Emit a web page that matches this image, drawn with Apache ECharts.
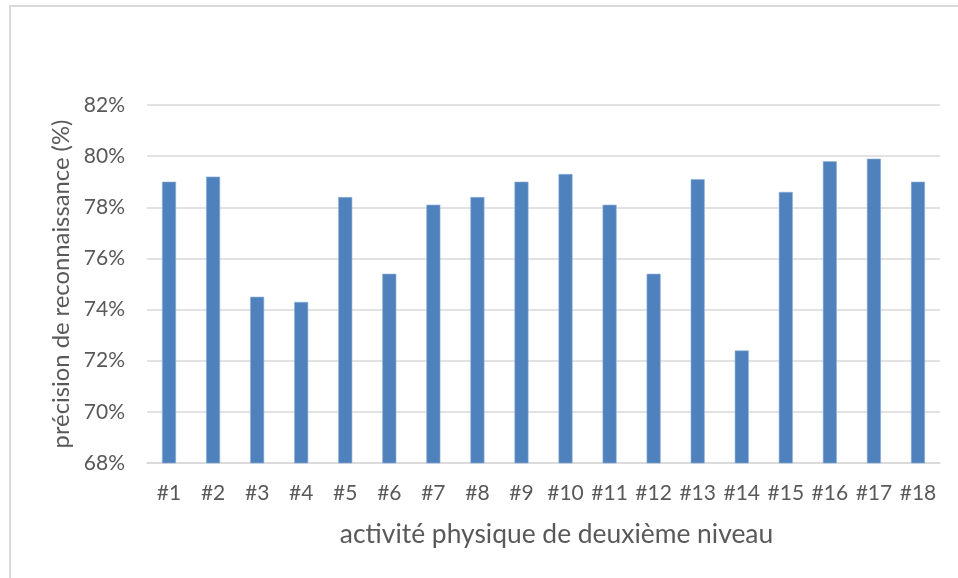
<!DOCTYPE html>
<html>
<head>
<meta charset="utf-8">
<script src="https://cdn.jsdelivr.net/npm/echarts@6/dist/echarts.min.js"></script>
<style>
  html, body { margin: 0; padding: 0; background: #ffffff; }
  #chart { width: 958px; height: 578px; }
</style>
</head>
<body>
<div id="chart"></div>
<script>
// Activity labels along the x axis
const activities = ['#1', '#2', '#3', '#4', '#5', '#6', '#7', '#8', '#9',
  '#10', '#11', '#12', '#13', '#14', '#15', '#16', '#17', '#18'];

// Recognition accuracy per activity (%)
const accuracy = [79.0, 79.2, 74.5, 74.3, 78.4, 75.4, 78.1, 78.4, 79.0,
  79.3, 78.1, 75.4, 79.1, 72.4, 78.6, 79.8, 79.9, 79.0];

// Value axis range and step (%)
const yMin = 68;
const yMax = 82;
const yStep = 2;

const xTitle = 'activité physique de deuxième niveau';
const yTitle = 'précision de reconnaissance (%)';

const FONT = 'Lato, "Open Sans", sans-serif';
const TEXT = '#595959';
const GRID = '#d9d9d9';

const chart = echarts.init(document.getElementById('chart'), null, { renderer: 'canvas' });

chart.setOption({
  animation: false,
  backgroundColor: '#ffffff',
  textStyle: { fontFamily: FONT },
  graphic: [
    {
      type: 'polyline',
      silent: true,
      shape: { points: [[10, 578], [10, 6], [958, 6]] },
      style: { stroke: GRID, lineWidth: 2, fill: null }
    }
  ],
  grid: { left: 147, right: 18, top: 105, bottom: 115, containLabel: false },
  xAxis: {
    type: 'category',
    data: activities,
    name: xTitle,
    nameLocation: 'middle',
    nameGap: 58,
    nameTextStyle: { color: TEXT, fontSize: 26.4, fontFamily: FONT, padding: [0, 0, 0, 26] },
    axisLine: { show: true, lineStyle: { color: GRID, width: 1.5 } },
    axisTick: { show: false },
    axisLabel: { color: TEXT, fontSize: 21, margin: 20, fontFamily: FONT, interval: 0 }
  },
  yAxis: {
    type: 'value',
    min: yMin,
    max: yMax,
    interval: yStep,
    name: yTitle,
    nameLocation: 'middle',
    nameGap: 72,
    nameTextStyle: { color: TEXT, fontSize: 23.8, fontFamily: FONT },
    axisLine: { show: false },
    axisTick: { show: false },
    axisLabel: { color: TEXT, fontSize: 21, margin: 22, fontFamily: FONT,
      formatter: v => v + '%' },
    splitLine: { show: true, lineStyle: { color: GRID, width: 1.5 } }
  },
  series: [
    {
      type: 'bar',
      data: accuracy,
      barWidth: 14,
      itemStyle: { color: '#4F81BD', borderColor: '#8fb0d8', borderWidth: 0.6 }
    }
  ]
});
</script>
</body>
</html>
